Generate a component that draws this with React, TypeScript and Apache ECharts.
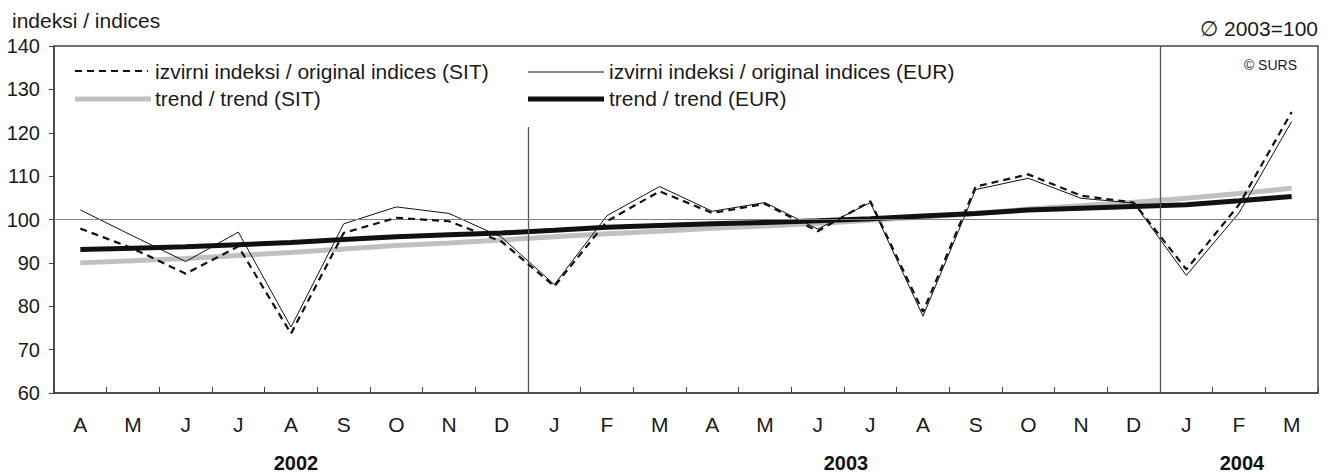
import React, { useEffect, useRef } from "react";
import * as echarts from "echarts";

const months = ["A", "M", "J", "J", "A", "S", "O", "N", "D", "J", "F", "M", "A", "M", "J", "J", "A", "S", "O", "N", "D", "J", "F", "M"];
const years = ["2002", "2003", "2004"];
const yearLabelX = [296, 846, 1242];

const originalSIT = [97.9, 93.3, 87.5, 93.8, 73.7, 96.9, 100.4, 99.6, 94.9, 84.6, 99.6, 106.5, 101.5, 103.6, 97.3, 104.2, 78.7, 107.6, 110.4, 105.5, 103.9, 88.5, 103.4, 124.8];
const originalEUR = [102.2, 96.2, 90.3, 97.1, 75.2, 99.0, 102.9, 101.4, 95.9, 85.0, 100.9, 107.6, 101.9, 103.9, 97.8, 103.9, 77.7, 106.9, 109.5, 104.9, 103.8, 87.1, 101.5, 122.6];
const trendSIT = [90.0, 90.5, 91.0, 91.7, 92.4, 93.2, 94.0, 94.6, 95.3, 96.0, 96.7, 97.3, 98.0, 98.5, 99.1, 99.8, 100.6, 101.4, 102.4, 103.2, 104.0, 104.9, 106.0, 107.2];
const trendEUR = [93.1, 93.4, 93.7, 94.2, 94.7, 95.4, 96.0, 96.5, 96.9, 97.5, 98.2, 98.6, 99.0, 99.3, 99.7, 100.2, 100.8, 101.4, 102.2, 102.6, 103.0, 103.4, 104.3, 105.3];

const seriesNames = [
  "izvirni indeksi / original indices (SIT)",
  "izvirni indeksi / original indices (EUR)",
  "trend / trend (SIT)",
  "trend / trend (EUR)",
];

const dividerPos = [9, 21];
const dividerTop = [121.3, 140];
const referenceLevel = 100;

const FONT = "'Liberation Sans', Arial, sans-serif";
const TXT = "#1a1a1a";

export default function App() {
  const ref = useRef<HTMLDivElement>(null);
  useEffect(() => {
    document.body.style.margin = "0";
    const chart = echarts.init(ref.current!, null, { renderer: "svg" });
    const dividerLines = dividerPos.map((p, i) => [
      { coord: [p, dividerTop[i]] },
      { coord: [p, 60] },
    ]);
    const legendText = (text: string, x: number, y: number) => ({
      type: "text",
      x,
      y,
      style: { text, font: `21px ${FONT}`, fill: TXT, verticalAlign: "middle" },
    });
    chart.setOption({
      animation: false,
      textStyle: { fontFamily: FONT },
      grid: {
        left: 54,
        right: 16,
        top: 46,
        bottom: 81,
        show: true,
        borderColor: "#444",
        borderWidth: 1.5,
        backgroundColor: "transparent",
      },
      xAxis: [
        {
          type: "category",
          data: months,
          boundaryGap: true,
          axisLine: { lineStyle: { color: "#444", width: 1.5 } },
          axisTick: { show: true, inside: true, length: 6, interval: 0, lineStyle: { color: "#444" } },
          axisLabel: { interval: 0, fontSize: 21, color: TXT, margin: 21, fontFamily: FONT },
          splitLine: { show: false },
        },
        { type: "value", min: 0, max: 24, show: false },
      ],
      yAxis: {
        type: "value",
        min: 60,
        max: 140,
        interval: 10,
        axisLine: { show: true, lineStyle: { color: "#444", width: 1.5 } },
        axisTick: { show: true, length: 5, lineStyle: { color: "#444" } },
        axisLabel: { fontSize: 20, color: TXT, margin: 14, fontFamily: FONT },
        splitLine: { show: false },
      },
      series: [
        {
          type: "line",
          xAxisIndex: 1,
          data: [],
          silent: true,
          markLine: {
            silent: true,
            symbol: "none",
            label: { show: false },
            lineStyle: { color: "#555", width: 1.3, type: "solid" },
            data: [
              ...dividerLines,
              { yAxis: referenceLevel, lineStyle: { color: "#808080", width: 1.2 } },
            ],
          },
        },
        {
          name: seriesNames[2],
          type: "line",
          data: trendSIT,
          symbol: "none",
          lineStyle: { color: "#c0c0c0", width: 5 },
          z: 2,
        },
        {
          name: seriesNames[3],
          type: "line",
          data: trendEUR,
          symbol: "none",
          lineStyle: { color: "#111", width: 5 },
          z: 3,
        },
        {
          name: seriesNames[1],
          type: "line",
          data: originalEUR,
          symbol: "none",
          lineStyle: { color: "#111", width: 1 },
          z: 4,
        },
        {
          name: seriesNames[0],
          type: "line",
          data: originalSIT,
          symbol: "none",
          lineStyle: { color: "#111", width: 2.2, type: [7, 5] },
          z: 5,
        },
      ],
      graphic: [
        { type: "text", x: 12, y: 20, style: { text: "indeksi / indices", font: `21px ${FONT}`, fill: TXT, verticalAlign: "middle" } },
        { type: "text", x: 1318, y: 28, style: { text: "\u2205 2003=100", font: `21px ${FONT}`, fill: TXT, align: "right", verticalAlign: "middle" } },
        { type: "text", x: 1297, y: 65, style: { text: "\u00a9 SURS", font: `14px ${FONT}`, fill: TXT, align: "right", verticalAlign: "middle" } },
        // legend
        { type: "line", shape: { x1: 75, y1: 71, x2: 148, y2: 71 }, style: { stroke: "#111", lineWidth: 2.2, lineDash: [7, 5] } },
        legendText(seriesNames[0], 155, 71),
        { type: "line", shape: { x1: 528, y1: 72, x2: 604, y2: 72 }, style: { stroke: "#111", lineWidth: 1 } },
        legendText(seriesNames[1], 609, 71),
        { type: "line", shape: { x1: 75, y1: 99, x2: 151, y2: 99 }, style: { stroke: "#c0c0c0", lineWidth: 5 } },
        legendText(seriesNames[2], 155, 98),
        { type: "line", shape: { x1: 528, y1: 99, x2: 604, y2: 99 }, style: { stroke: "#111", lineWidth: 5 } },
        legendText(seriesNames[3], 609, 98),
        // years
        ...years.map((y, i) => ({
          type: "text",
          x: yearLabelX[i],
          y: 463,
          style: { text: y, font: `bold 20px ${FONT}`, fill: "#111", align: "center", verticalAlign: "middle" },
        })),
      ],
    });
    return () => chart.dispose();
  }, []);
  return <div ref={ref} style={{ width: 1334, height: 474 }} />;
}
